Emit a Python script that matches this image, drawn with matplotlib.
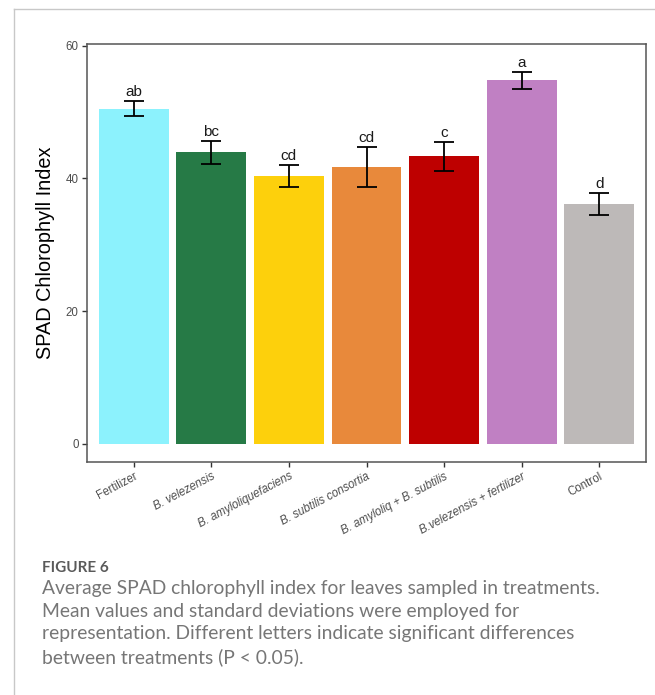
import numpy as np
import matplotlib.pyplot as plt
from matplotlib.lines import Line2D

treatments = ['Fertilizer', 'B. velezensis', 'B. amyloliquefaciens', 'B. subtilis consortia',
              'B. amyloliq + B. subtilis', 'B.velezensis + fertilizer', 'Control']
spad_mean = [50.5, 43.9, 40.3, 41.7, 43.3, 54.8, 36.1]
spad_sd = [1.15, 1.75, 1.65, 3.0, 2.2, 1.3, 1.7]
letters = ['ab', 'bc', 'cd', 'cd', 'c', 'a', 'd']
italic = [False, True, True, True, True, True, False]
colors = ['#8cf2fd', '#267a46', '#fdd00c', '#e8893b', '#be0000', '#c080c3', '#bdb9b8']

caption_head = 'FIGURE 6'
caption = ('Average SPAD chlorophyll index for leaves sampled in treatments.\n'
           'Mean values and standard deviations were employed for\n'
           'representation. Different letters indicate significant differences\n'
           'between treatments (P < 0.05).')

plt.rcParams['font.family'] = ['Liberation Sans', 'DejaVu Sans']

fig = plt.figure(figsize=(6.55, 6.95), dpi=100)
ax = fig.add_axes([0.1328, 0.3353, 0.8535, 0.6014])

x = np.arange(len(treatments))
ax.bar(x, spad_mean, width=0.9, color=colors, edgecolor='none', zorder=2)
ax.errorbar(x, spad_mean, yerr=spad_sd, fmt='none', ecolor='black',
            elinewidth=1.3, capsize=7.5, capthick=1.3, zorder=3)
for xi, m, s, lab in zip(x, spad_mean, spad_sd, letters):
    ax.text(xi, m + s + 0.3, lab, ha='center', va='bottom', fontsize=11, color='#1a1a1a')

ax.set_xlim(-0.6, 6.6)
ax.set_ylim(-2.75, 60.25)
ax.set_yticks([0, 20, 40, 60])
ax.set_xticks(x)
ax.set_xticklabels(treatments, rotation=28, ha='right', rotation_mode='anchor')
for lab, it in zip(ax.get_xticklabels(), italic):
    if it:
        lab.set_style('italic')

ax.tick_params(axis='both', labelsize=8.3, labelcolor='#4d4d4d', color='#333333',
               length=3.5, width=1, pad=2.5)
ax.set_ylabel('SPAD Chlorophyll Index', fontsize=14.3, color='black', labelpad=8)
for sp in ax.spines.values():
    sp.set_color('#555555')
    sp.set_linewidth(1.1)

# page frame around the figure block
fig.add_artist(Line2D([14 / 655, 1], [1 - 9 / 695, 1 - 9 / 695], color='#c8c8c8', lw=1))
fig.add_artist(Line2D([14 / 655, 14 / 655], [0, 1 - 9 / 695], color='#c8c8c8', lw=1))

fig.text(42 / 655, 1 - 568 / 695, caption_head, fontsize=11, fontweight='bold',
         color='#5a5a5a', family=['Lato', 'DejaVu Sans'], va='center')
fig.text(42 / 655, 1 - 580 / 695, caption, fontsize=13.9, color='#767676',
         family=['Lato', 'DejaVu Sans'], va='top', linespacing=1.4)

fig.savefig('out.png', dpi=100)
